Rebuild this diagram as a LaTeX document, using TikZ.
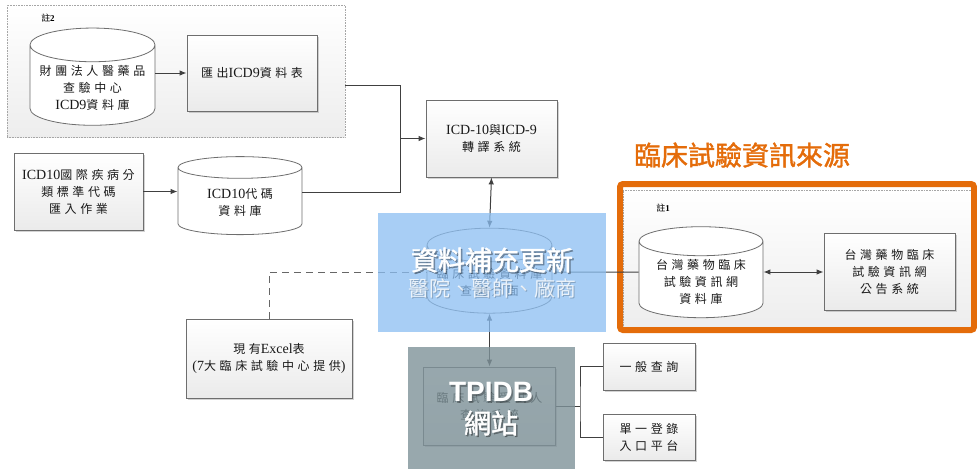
\documentclass[tikz,border=0pt]{standalone}
\usepackage{fontspec}
\setmainfont{Liberation Serif}
\newfontfamily\cjk[LetterSpace=30]{Noto Sans CJK TC}
\newfontfamily\cjkbig{Noto Sans CJK TC}
\newfontfamily\cjkbold[FakeBold=1.5]{Noto Sans CJK TC}
\newfontfamily\latsans{Liberation Sans}
\usetikzlibrary{arrows.meta}
\usetikzlibrary{positioning}
\usetikzlibrary{shapes.geometric}
\usetikzlibrary{shadows}
\definecolor{srcorange}{RGB}{228,108,10}
\definecolor{fillblue}{RGB}{139,190,242}
\definecolor{fillslate}{RGB}{126,146,153}
\definecolor{edgegray}{RGB}{110,110,110}
\definecolor{linegray}{RGB}{64,64,64}
\newcommand{\lat}[1]{{\rmfamily\fontsize{14}{17}\selectfont #1}}

\begin{document}
\begin{tikzpicture}[x=1pt,y=-1pt,
        every node/.style={font=\cjk\fontsize{12}{17}\selectfont,text=black!90,align=center},
        box/.style={rectangle,draw=edgegray,line width=0.8pt,top color=white,bottom color=black!8,
                    drop shadow={shadow xshift=1.5pt,shadow yshift=-1.5pt,opacity=0.35}},
        db/.style={cylinder,shape border rotate=90,aspect=0.3,draw=edgegray,line width=0.8pt,fill=white},
        notebox/.style={rectangle,draw=black!35,densely dotted,line width=0.6pt,top color=white,bottom color=black!7},
        notelabel/.style={font=\cjkbig\fontsize{9}{10}\selectfont,text=black},
        wire/.style={draw=linegray,line width=1pt},
        dashwire/.style={draw=black!60,line width=1pt,dash pattern=on 7pt off 5pt},
        arr/.style={-{Latex[length=7pt,width=5.5pt]}},
        dblarr/.style={{Latex[length=7pt,width=5.5pt]}-{Latex[length=7pt,width=5.5pt]}},
        panel/.style={inner sep=0pt},
        bigtxt/.style={font=\cjkbold\fontsize{27}{30}\selectfont},
        midtxt/.style={font=\cjkbig\fontsize{21}{24}\selectfont},
        websans/.style={font=\latsans\bfseries\fontsize{28}{30}\selectfont}
      ]
      \useasboundingbox (0,0) rectangle (977,469);
      % containers
      \node (note2box) [notebox,minimum width=338pt,minimum height=132pt] at (176,71) {};
      \node (note2) [notelabel] at (48,18) {註{\rmfamily\bfseries 2}};
      \node (note1box) [notebox,minimum width=349pt,minimum height=138pt] at (797.5,259) {};
      \node (note1) [notelabel] at (663,208) {註{\rmfamily\bfseries 1}};
      % boxes and databases
      \node (icd9db) [db,minimum width=125pt,minimum height=78pt] at (92.5,88) {財團法人醫藥品\\查驗中心\\\lat{ICD9}資料庫};
      \node (icd9tab) [box,minimum width=130pt,minimum height=76pt] at (252,73) {匯出\lat{ICD9}資料表};
      \node (icd10imp) [box,minimum width=129pt,minimum height=77pt] at (78.5,191.5) {\lat{ICD10}國際疾病分\\類標準代碼\\匯入作業};
      \node (icd10db) [db,minimum width=124pt,minimum height=78pt] at (240,203) {\lat{ICD10}代碼\\資料庫};
      \node (convert) [box,minimum width=131pt,minimum height=77pt] at (491.5,138.5) {\lat{ICD-10}與\lat{ICD-9}\\轉譯系統};
      \node (trialdb) [db,minimum width=125pt,minimum height=85pt] at (489.5,282) {臨床試驗資料庫\\查詢介面};
      \node (excel) [box,minimum width=166pt,minimum height=79pt] at (269,358.5) {現有\lat{Excel}表\\\lat{(7}大臨床試驗中心提供\lat{)}};
      \node (portal) [box,minimum width=132pt,minimum height=78pt] at (489.5,406) {臨床試驗受試人\\查詢系統};
      \node (query) [box,minimum width=92pt,minimum height=47pt] at (649,366.5) {一般查詢};
      \node (sso) [box,minimum width=92pt,minimum height=46pt] at (649,437) {單一登錄\\入口平台};
      \node (twdb) [db,minimum width=124pt,minimum height=84pt] at (701,282) {台灣藥物臨床\\試驗資訊網\\資料庫};
      \node (twpub) [box,minimum width=131pt,minimum height=77pt] at (889.5,271.5) {台灣藥物臨床\\試驗資訊網\\公告系統};
      \node (srcframe) [panel,draw=srcorange,line width=6pt,rounded corners=3pt,minimum width=354pt,minimum height=146pt] at (797,257) {};
      \node (srctitle) [font=\cjkbold\fontsize{27}{30}\selectfont,text=srcorange] at (742,155) {臨床試驗資訊來源};
      % connectors
      \coordinate (merge) at (400,138.5);
      \coordinate (fork) at (580,406);
      \draw[wire,arr] (icd9db.east |- icd9tab.west) -- (icd9tab.west);
      \draw[wire] ([yshift=-14pt]note2box.east) -| (merge);
      \draw[wire] ([yshift=11pt]icd10db.east) -| (merge);
      \draw[wire,arr] (icd10imp.east) -- (icd10imp.east -| icd10db.west);
      \draw[wire,arr] (merge) -- (convert.west);
      \draw[wire,dblarr] (convert.south) -- (trialdb.north);
      \draw[wire,dblarr] (trialdb.south) -- (portal.north);
      \draw[dashwire] (excel.north) |- ([yshift=10pt]trialdb.west);
      \draw[wire] ([yshift=10pt]trialdb.east) -- ([yshift=10pt]twdb.west);
      \draw[wire,dblarr] ([yshift=10pt]twdb.east) -- ([yshift=10pt]twdb.east -| twpub.west);
      \draw[wire] (portal.east) -- (fork);
      \draw[wire] (query.west) -| (fork) |- (sso.west);
      % overlays
      \node (updatepanel) [panel,fill=fillblue,fill opacity=0.75,minimum width=228pt,minimum height=119pt] at (492,272.5) {};
      \node (updateshade) [bigtxt,text=black,text opacity=0.3] at (493.5,261.5) {資料補充更新};
      \node (updatetitle) [bigtxt,text=white] at (492,260) {資料補充更新};
      \node (whoshade) [midtxt,text=black,text opacity=0.2] at (493.5,289.5) {醫院、醫師、廠商};
      \node (updatewho) [midtxt,text=white,text opacity=0.8] at (492,288) {醫院、醫師、廠商};
      \node (webpanel) [panel,fill=fillslate,fill opacity=0.8,minimum width=167pt,minimum height=122pt] at (491.5,408) {};
      \node (webshade) [websans,text=black,text opacity=0.3] at (492.5,393.5) {TPIDB};
      \node (webtitle) [websans,text=white] at (491,392) {TPIDB};
      \node (siteshade) [bigtxt,text=black,text opacity=0.3] at (492.5,424.5) {網站};
      \node (sitetitle) [bigtxt,text=white] at (491,423) {網站};
    \end{tikzpicture}
\end{document}
